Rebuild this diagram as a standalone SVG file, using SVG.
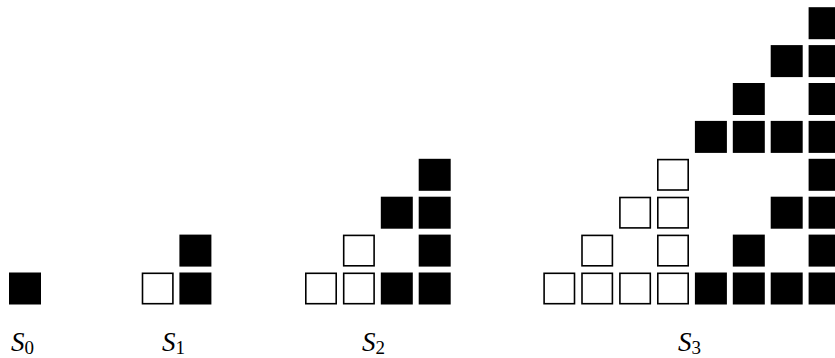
<svg xmlns="http://www.w3.org/2000/svg" width="835" height="358" viewBox="0 0 835 358">
<style>
.b{fill:#000}
.w{fill:#fff;stroke:#000;stroke-width:1.6}
.l{font-family:"Liberation Serif",serif;font-style:italic;font-size:27px;fill:#000}
.s{font-style:normal;font-size:19px}
</style>
<defs>
<rect id="B" class="b" width="32" height="32"/>
<rect id="W" class="w" x="0.8" y="0.8" width="30.4" height="30.4"/>
</defs>
<rect width="835" height="358" fill="#fff"/>
<g id="S0">
<use href="#B" x="9" y="272.5"/>
</g>
<g id="S1">
<use href="#W" x="141.7" y="272.5"/>
<use href="#B" x="179.4" y="272.5"/>
<use href="#B" x="179.4" y="234.6"/>
</g>
<g id="S2">
<use href="#W" x="305" y="272.5"/>
<use href="#W" x="342.9" y="272.5"/>
<use href="#B" x="380.8" y="272.5"/>
<use href="#B" x="418.7" y="272.5"/>
<use href="#W" x="342.9" y="234.6"/>
<use href="#B" x="418.7" y="234.6"/>
<use href="#B" x="380.8" y="196.7"/>
<use href="#B" x="418.7" y="196.7"/>
<use href="#B" x="418.7" y="158.8"/>
</g>
<g id="S3">
<use href="#W" x="543.3" y="272.5"/>
<use href="#W" x="581.2" y="272.5"/>
<use href="#W" x="619.1" y="272.5"/>
<use href="#W" x="657" y="272.5"/>
<use href="#W" x="581.2" y="234.6"/>
<use href="#W" x="657" y="234.6"/>
<use href="#W" x="619.1" y="196.7"/>
<use href="#W" x="657" y="196.7"/>
<use href="#W" x="657" y="158.8"/>
<use href="#B" x="694.9" y="272.5"/>
<use href="#B" x="732.8" y="272.5"/>
<use href="#B" x="770.7" y="272.5"/>
<use href="#B" x="808.6" y="272.5"/>
<use href="#B" x="732.8" y="234.6"/>
<use href="#B" x="808.6" y="234.6"/>
<use href="#B" x="770.7" y="196.7"/>
<use href="#B" x="808.6" y="196.7"/>
<use href="#B" x="808.6" y="158.8"/>
<use href="#B" x="694.9" y="120.9"/>
<use href="#B" x="732.8" y="120.9"/>
<use href="#B" x="770.7" y="120.9"/>
<use href="#B" x="808.6" y="120.9"/>
<use href="#B" x="732.8" y="83"/>
<use href="#B" x="808.6" y="83"/>
<use href="#B" x="770.7" y="45.1"/>
<use href="#B" x="808.6" y="45.1"/>
<use href="#B" x="808.6" y="7.2"/>
</g>
<g id="labels">
<text class="l" x="11" y="351">S<tspan class="s" dy="3">0</tspan></text>
<text class="l" x="162" y="351">S<tspan class="s" dy="3">1</tspan></text>
<text class="l" x="362" y="351">S<tspan class="s" dy="3">2</tspan></text>
<text class="l" x="678" y="351">S<tspan class="s" dy="3">3</tspan></text>
</g>
</svg>
